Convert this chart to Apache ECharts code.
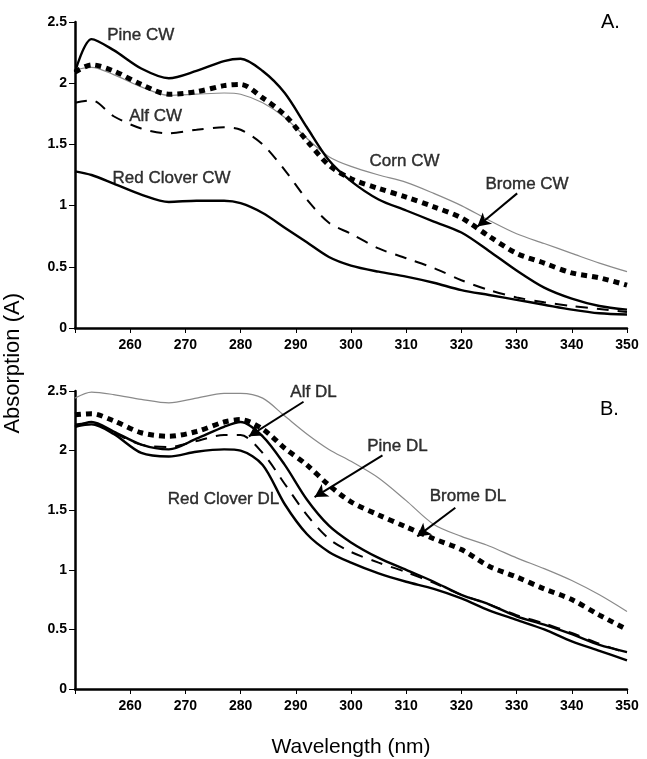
<!DOCTYPE html>
<html>
<head>
<meta charset="utf-8">
<script src="https://cdn.jsdelivr.net/npm/echarts@6/dist/echarts.min.js"></script>
<style>
  html, body { margin: 0; padding: 0; background: #fff; }
  #main { width: 647px; height: 759px; }
</style>
</head>
<body>
<div id="main"></div>
<script>
// wavelengths (nm) shared by every curve
var wl = [250, 253, 257, 262, 267, 272, 277, 280, 284, 288, 292, 296, 300, 305, 310, 315, 320, 325, 330, 335, 340, 345, 350]

// panel A - cell walls
var pineCW      = [2.09, 2.36, 2.27, 2.12, 2.04, 2.10, 2.18, 2.20, 2.10, 1.92, 1.64, 1.37, 1.20, 1.05, 0.96, 0.87, 0.78, 0.63, 0.47, 0.33, 0.24, 0.18, 0.15]
var bromeCW     = [2.09, 2.15, 2.10, 1.99, 1.91, 1.93, 1.98, 1.99, 1.88, 1.74, 1.53, 1.33, 1.22, 1.14, 1.07, 0.99, 0.90, 0.75, 0.61, 0.53, 0.45, 0.41, 0.35]
var cornCW      = [2.11, 2.13, 2.07, 1.97, 1.90, 1.91, 1.92, 1.91, 1.84, 1.72, 1.55, 1.40, 1.32, 1.25, 1.19, 1.10, 1.00, 0.88, 0.77, 0.69, 0.61, 0.53, 0.46]
var alfCW       = [1.84, 1.86, 1.73, 1.63, 1.59, 1.62, 1.64, 1.62, 1.50, 1.29, 1.05, 0.86, 0.77, 0.65, 0.57, 0.49, 0.39, 0.31, 0.25, 0.21, 0.18, 0.155, 0.13]
var redCloverCW = [1.28, 1.25, 1.18, 1.09, 1.03, 1.04, 1.04, 1.02, 0.94, 0.82, 0.70, 0.58, 0.51, 0.46, 0.42, 0.37, 0.31, 0.27, 0.23, 0.19, 0.15, 0.12, 0.11]

// panel B - dioxane lignins
var cornDL      = [2.44, 2.49, 2.47, 2.43, 2.40, 2.44, 2.48, 2.48, 2.44, 2.29, 2.14, 2.01, 1.91, 1.77, 1.58, 1.38, 1.28, 1.20, 1.10, 1.01, 0.91, 0.79, 0.65]
var bromeDL     = [2.30, 2.31, 2.25, 2.15, 2.12, 2.16, 2.24, 2.26, 2.18, 2.02, 1.88, 1.71, 1.57, 1.46, 1.36, 1.26, 1.17, 1.03, 0.94, 0.84, 0.75, 0.62, 0.50]
var pineDL      = [2.20, 2.24, 2.16, 2.05, 2.01, 2.10, 2.20, 2.24, 2.12, 1.88, 1.59, 1.37, 1.23, 1.10, 1.00, 0.90, 0.79, 0.71, 0.61, 0.54, 0.46, 0.37, 0.31]
var alfDL       = [2.22, 2.23, 2.15, 2.05, 2.03, 2.08, 2.13, 2.13, 1.98, 1.72, 1.46, 1.26, 1.15, 1.06, 0.98, 0.89, 0.79, 0.71, 0.62, 0.55, 0.47, 0.38, 0.30]
var redCloverDL = [2.20, 2.22, 2.14, 1.98, 1.95, 1.99, 2.01, 2.00, 1.88, 1.55, 1.30, 1.15, 1.06, 0.97, 0.90, 0.84, 0.76, 0.66, 0.58, 0.50, 0.40, 0.32, 0.24]

// curve labels [wavelength, absorption, text]
var labelsA = [[261.9, 2.39, 'Pine CW'], [264.6, 1.73, 'Alf CW'], [267.5, 1.22, 'Red Clover CW'], [309.7, 1.36, 'Corn CW'], [331.9, 1.17, 'Brome CW']]
var labelsB = [[265.9, 2.57, 'Corn DL'], [293.2, 2.49, 'Alf DL'], [308.4, 2.04, 'Pine DL'], [321.2, 1.62, 'Brome DL'], [276.9, 1.59, 'Red Clover DL']]
// arrows [from, to]
var arrowsA = [[[330.1, 1.10], [322.9, 0.83]]]
var arrowsB = [[[291.4, 2.41], [281.5, 2.12]], [[305.7, 1.96], [293.4, 1.61]], [[318.9, 1.52], [312.0, 1.28]]]

var font = "'Liberation Sans', Arial, sans-serif"

function pairs(ys) {
  return wl.map(function (x, i) { return [x, ys[i]] })
}

function curve(name, ys, idx, kind) {
  var ls = { color: '#000', width: 2.4, type: 'solid' }
  if (kind === 'dash') ls = { color: '#000', width: 2, type: [12, 9] }
  if (kind === 'dot') ls = { color: '#000', width: 5, type: [6, 5], cap: 'butt' }
  if (kind === 'thin') ls = { color: '#8a8a8a', width: 1.2, type: 'solid' }
  return {
    name: name,
    type: 'line',
    xAxisIndex: idx,
    yAxisIndex: idx,
    data: pairs(ys),
    smooth: 0.3,
    showSymbol: false,
    lineStyle: ls,
    silent: true,
    z: kind === 'thin' ? 1 : 2
  }
}

function notes(labels, arrows, idx) {
  return {
    type: 'scatter',
    xAxisIndex: idx,
    yAxisIndex: idx,
    symbolSize: 0,
    silent: true,
    data: labels.map(function (l) { return { value: [l[0], l[1]], name: l[2] } }),
    label: {
      show: true,
      position: 'inside',
      formatter: '{b}',
      color: '#000',
      textBorderColor: '#000',
      textBorderWidth: 0.4,
      fontSize: 17,
      fontFamily: font
    },
    markLine: {
      silent: true,
      symbol: ['none', 'arrow'],
      symbolSize: [11, 13],
      label: { show: false },
      lineStyle: { color: '#000', width: 2, type: 'solid' },
      data: arrows.map(function (a) { return [{ coord: a[0] }, { coord: a[1] }] })
    }
  }
}

function xAx(idx, showName) {
  return {
    type: 'value',
    gridIndex: idx,
    min: 250,
    max: 350,
    interval: 10,
    name: showName ? 'Wavelength (nm)' : '',
    nameLocation: 'middle',
    nameGap: 48,
    nameTextStyle: { color: '#000', fontSize: 21, fontFamily: font },
    axisLine: { onZero: false, lineStyle: { color: '#000', width: 2.5 } },
    axisTick: { length: 5, lineStyle: { color: '#000', width: 1 } },
    axisLabel: {
      color: '#000', fontSize: 14, fontWeight: 'bold', fontFamily: font, margin: 10,
      formatter: function (v) { return v === 250 ? '' : v }
    },
    splitLine: { show: false }
  }
}

function yAx(idx) {
  return {
    type: 'value',
    gridIndex: idx,
    min: 0,
    max: 2.5,
    interval: 0.5,
    axisLine: { lineStyle: { color: '#000', width: 2.5 } },
    axisTick: { length: 6, lineStyle: { color: '#000', width: 1 } },
    axisLabel: { color: '#000', fontSize: 14, fontWeight: 'bold', fontFamily: font, margin: 8 },
    splitLine: { show: false }
  }
}

var dom = document.getElementById('main')
var myChart = echarts.init(dom)
var option = {
  backgroundColor: '#fff',
  animation: false,
  grid: [
    { left: 75, top: 22, width: 552, height: 306 },
    { left: 75, top: 391, width: 552, height: 305 }
  ],
  xAxis: [xAx(0, false), xAx(1, true)],
  yAxis: [yAx(0), yAx(1)],
  graphic: [
    {
      type: 'text', left: 2, top: 293,
      rotation: Math.PI / 2,
      style: { text: 'Absorption (A)', fill: '#000', font: '22px ' + font }
    },
    { type: 'text', left: 601, top: 12, style: { text: 'A.', fill: '#000', font: '20px ' + font } },
    { type: 'text', left: 600, top: 399, style: { text: 'B.', fill: '#000', font: '20px ' + font } }
  ],
  series: [
    curve('Corn CW', cornCW, 0, 'thin'),
    curve('Pine CW', pineCW, 0, 'solid'),
    curve('Brome CW', bromeCW, 0, 'dot'),
    curve('Alf CW', alfCW, 0, 'dash'),
    curve('Red Clover CW', redCloverCW, 0, 'solid'),
    notes(labelsA, arrowsA, 0),
    curve('Corn DL', cornDL, 1, 'thin'),
    curve('Brome DL', bromeDL, 1, 'dot'),
    curve('Pine DL', pineDL, 1, 'solid'),
    curve('Alf DL', alfDL, 1, 'dash'),
    curve('Red Clover DL', redCloverDL, 1, 'solid'),
    notes(labelsB, arrowsB, 1)
  ]
}
myChart.setOption(option)
</script>
</body>
</html>
